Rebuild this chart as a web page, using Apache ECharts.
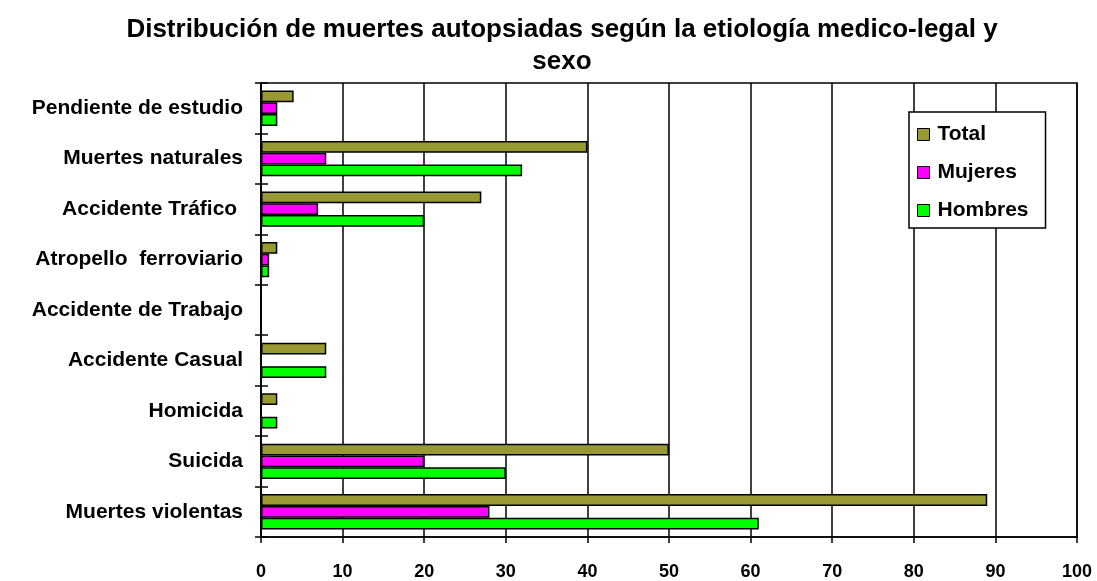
<!DOCTYPE html>
<html>
<head>
<meta charset="utf-8">
<script src="https://cdn.jsdelivr.net/npm/echarts@6/dist/echarts.min.js"></script>
<style>
  html, body { margin: 0; padding: 0; background: #fff; }
  #chart { width: 1097px; height: 581px; }
</style>
</head>
<body>
<div id="chart"></div>
<script>
// categories listed bottom -> top
var categories = [
  "Muertes violentas",
  "Suicida",
  "Homicida",
  "Accidente Casual",
  "Accidente de Trabajo",
  "Atropello  ferroviario",
  "Accidente Tráfico ",
  "Muertes naturales",
  "Pendiente de estudio"
];
var total = [89, 50, 2, 8, 0, 2, 27, 40, 4];
var mujeres = [28, 20, 0, 0, 0, 1, 7, 8, 2];
var hombres = [61, 30, 2, 8, 0, 1, 20, 32, 2];
var xTicks = [0, 10, 20, 30, 40, 50, 60, 70, 80, 90, 100];

var font = "'Liberation Sans', Arial, sans-serif";

function barSeries(name, data, color) {
  return {
    name: name,
    type: "bar",
    data: data,
    barGap: 0,
    barCategoryGap: "30%",
    itemStyle: { color: color, borderColor: "#000", borderWidth: 1.5 },
    emphasis: { disabled: true }
  };
}

var titleStyle = { fontFamily: font, fontWeight: "bold", fontSize: 26, color: "#000" };

var myChart = echarts.init(document.getElementById("chart"));
var option = {
  animation: false,
  title: [
    {
      text: "Distribución de muertes autopsiadas según la etiología medico-legal y",
      left: 562,
      top: 17,
      textAlign: "center",
      padding: 0,
      textStyle: titleStyle
    },
    {
      text: "sexo",
      left: 562,
      top: 49,
      textAlign: "center",
      padding: 0,
      textStyle: titleStyle
    }
  ],
  legend: {
    orient: "vertical",
    left: 909,
    top: 112,
    data: ["Total", "Mujeres", "Hombres"],
    icon: "rect",
    itemWidth: 12,
    itemHeight: 12,
    itemGap: 17,
    padding: [12, 17, 7, 8],
    backgroundColor: "#fff",
    borderColor: "#000",
    borderWidth: 1.5,
    borderRadius: 0,
    selectedMode: false,
    itemStyle: { borderColor: "#000", borderWidth: 1 },
    textStyle: { fontFamily: font, fontWeight: "bold", fontSize: 21, lineHeight: 20, color: "#000", padding: [0, 0, 0, 3] }
  },
  grid: {
    left: 261,
    right: 20,
    top: 83,
    bottom: 41,
    show: true,
    borderColor: "#000",
    borderWidth: 1.5,
    containLabel: false
  },
  xAxis: {
    type: "value",
    min: 0,
    max: 100,
    interval: 10,
    axisLine: { show: true, lineStyle: { color: "#000", width: 1.5 } },
    axisTick: { show: true, length: 6, lineStyle: { color: "#000", width: 1.5 } },
    splitLine: { show: true, lineStyle: { color: "#000", width: 1.5 } },
    axisLabel: {
      margin: 26,
      fontFamily: font,
      fontWeight: "bold",
      fontSize: 18,
      color: "#000",
      formatter: function (v) { return xTicks.indexOf(v) >= 0 ? String(v) : ""; }
    }
  },
  yAxis: [
    {
      type: "category",
      data: categories,
      axisLine: { show: true, lineStyle: { color: "#000", width: 1.5 } },
      axisTick: { show: true, length: 6, lineStyle: { color: "#000", width: 1.5 } },
      axisLabel: { margin: 18, fontFamily: font, fontWeight: "bold", fontSize: 21, color: "#000" }
    },
    {
      type: "category",
      data: categories,
      position: "left",
      axisLine: { show: false },
      axisTick: { show: true, inside: true, length: 7, lineStyle: { color: "#000", width: 1.5 } },
      axisLabel: { show: false }
    }
  ],
  series: [
    barSeries("Total", total, "#999933"),
    barSeries("Mujeres", mujeres, "#ff00ff"),
    barSeries("Hombres", hombres, "#00ff00")
  ]
};
myChart.setOption(option);
</script>
</body>
</html>
